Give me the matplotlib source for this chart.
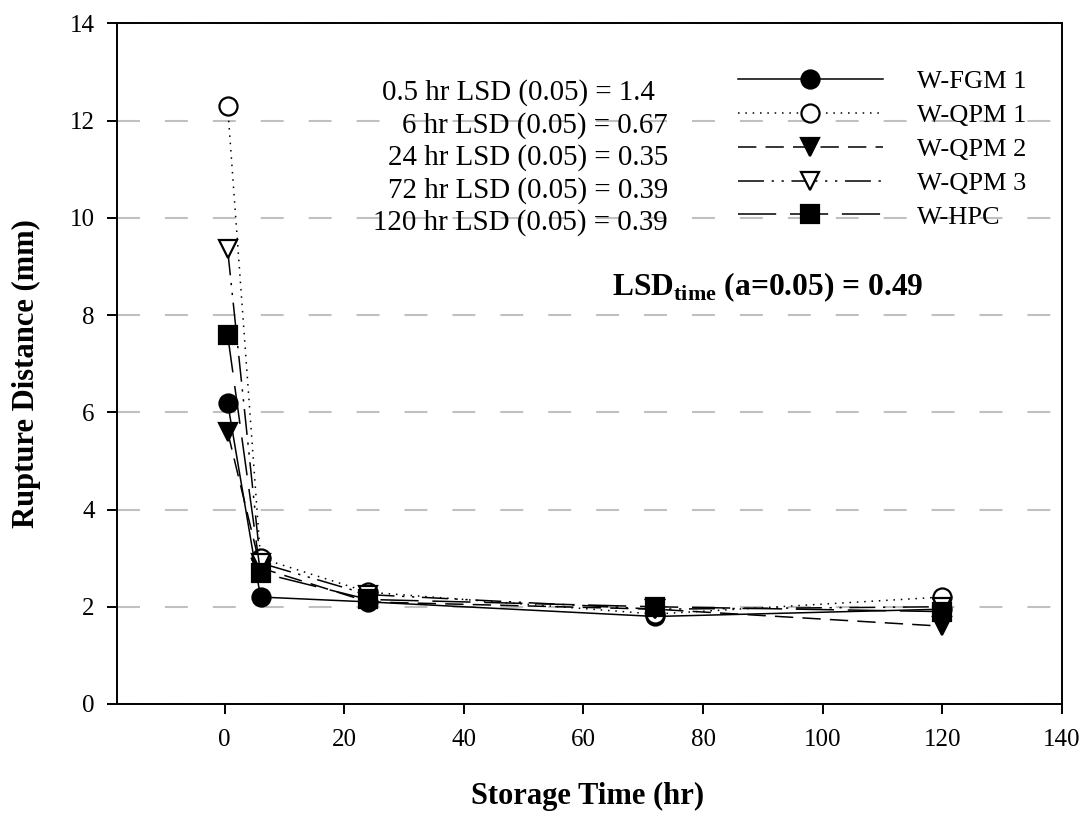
import matplotlib
matplotlib.use("Agg")
import matplotlib.pyplot as plt
from matplotlib import rc

rc('font', family='Liberation Serif', size=18)
rc('mathtext', fontset='custom', rm='Liberation Serif', bf='Liberation Serif:bold')

hours = [0.5, 6, 24, 72, 120]
fgm1 = [6.2, 2.2, 2.1, 1.8, 1.95]
qpm1 = [12.3, 3.0, 2.3, 1.85, 2.2]
qpm2 = [5.6, 2.8, 2.1, 1.95, 1.6]
qpm3 = [9.35, 2.9, 2.25, 1.95, 2.0]
hpc = [7.6, 2.7, 2.15, 2.0, 1.9]

labels = ["W-FGM 1", "W-QPM 1", "W-QPM 2", "W-QPM 3", "W-HPC"]
lsd_lines = ["0.5 hr LSD (0.05) = 1.4", "6 hr LSD (0.05) = 0.67",
             "24 hr LSD (0.05) = 0.35", "72 hr LSD (0.05) = 0.39",
             "120 hr LSD (0.05) = 0.39"]

fig = plt.figure(figsize=(10.85, 8.18), dpi=100)
ax = fig.add_axes([0.1078, 0.1394, 0.871, 0.8319])

series = [fgm1, qpm1, qpm2, qpm3, hpc]
styles = [
    dict(ls='-', marker='o', mfc='black'),
    dict(ls=(0, (1, 3.8)), marker='o', mfc='white'),
    dict(ls=(0, (12, 6)), marker='v', mfc='black'),
    dict(ls=(0, (17, 5, 1.5, 5, 1.5, 5)), marker='v', mfc='white'),
    dict(ls=(0, (25, 9)), marker='s', mfc='black'),
]
for y, lab, st in zip(series, labels, styles):
    ax.plot(hours, y, color='black', lw=1.1, ms=13, mec='black', mew=1.6,
            label=lab, **st)

ax.set_xlim(-18, 140)
ax.set_ylim(0, 14)
ax.set_xticks(range(0, 141, 20))
ax.set_yticks(range(0, 15, 2))
ax.yaxis.grid(True, color='#c0c0c0', ls=(0, (11, 12)), lw=1.5)
ax.set_axisbelow(True)
for sp in ax.spines.values():
    sp.set_linewidth(1.4)
ax.tick_params(direction='out', length=7, width=1.4)
ax.tick_params(axis='x', pad=11)
ax.tick_params(axis='y', pad=9)

ax.set_xlabel("Storage Time (hr)", fontsize=22, fontweight='bold')
ax.set_ylabel("Rupture Distance (mm)", fontsize=22, fontweight='bold')
ax.xaxis.set_label_coords(0.498, -0.115)
ax.yaxis.set_label_coords(-0.08, 0.485)

ax.legend(loc='upper left', bbox_to_anchor=(0.643, 0.951), frameon=False,
          borderpad=0, handlelength=5.5, labelspacing=0.39, handletextpad=1.3,
          fontsize=19)

for i, t in enumerate(lsd_lines):
    xr = 0.569 if i == 0 else 0.583
    ax.text(xr, 0.898 - i * 0.0478, t, transform=ax.transAxes,
            ha='right', va='center', fontsize=20.8)

ax.text(0.524, 0.613, r"LSD$_{\mathbf{time}}$ (a=0.05) = 0.49", transform=ax.transAxes,
        ha='left', va='center', fontsize=22.7, fontweight='bold')

fig.savefig("out.png", dpi=100)
